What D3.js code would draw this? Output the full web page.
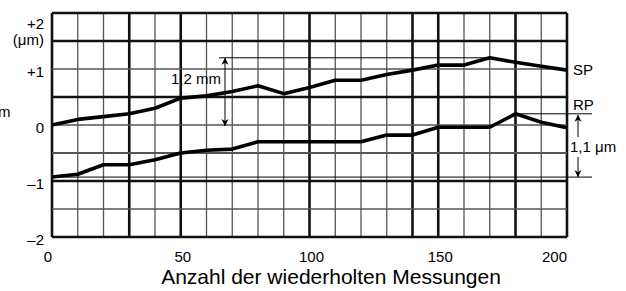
<!DOCTYPE html>
<html lang="de">
<head>
<meta charset="UTF-8">
<title>SP / RP Messungen</title>
<script src="https://d3js.org/d3.v7.min.js"></script>
<style>
  body { margin: 0; background: #fff; }
  svg { display: block; font-family: "Liberation Sans", Arial, sans-serif; }
</style>
</head>
<body>
<div id="chart"></div>
<script>
const counts = [0, 10, 20, 30, 40, 50, 60, 70, 80, 90, 100, 110, 120, 130, 140, 150, 160, 170, 180, 190, 200];
const sp = [0, 0.1, 0.15, 0.2, 0.3, 0.48, 0.52, 0.6, 0.7, 0.56, 0.67, 0.8, 0.8, 0.9, 0.98, 1.07, 1.07, 1.2, 1.12, 1.05, 0.98];
const rp = [-0.93, -0.88, -0.71, -0.71, -0.62, -0.5, -0.45, -0.43, -0.3, -0.3, -0.3, -0.3, -0.3, -0.18, -0.18, -0.04, -0.04, -0.04, 0.2, 0.05, -0.05];

const xTicks = [0, 50, 100, 150, 200];
const yTicks = [1, 0, -1, -2];
const yTickLabels = ["+1", "0", "\u20131", "\u20132"];
const xGrid = d3.range(0, 201, 10);
const yGrid = d3.range(-2, 2.01, 0.5);
const xThick = [0, 30, 50, 100, 140, 150, 180, 200];
const yThick = [2, 1.5, 0.5, -1, -2];

const width = 626, height = 291;
const svg = d3.select("#chart").append("svg")
  .attr("width", width).attr("height", height);

const x = d3.scaleLinear().domain([0, 200]).range([52, 567]);
const y = d3.scaleLinear().domain([-2, 2]).range([237, 13]);

// Gitter
svg.append("g").selectAll("line").data(xGrid).join("line")
  .attr("x1", d => x(d)).attr("x2", d => x(d))
  .attr("y1", y(2)).attr("y2", y(-2))
  .attr("stroke", d => xThick.includes(d) ? "#111" : "#555")
  .attr("stroke-width", d => xThick.includes(d) ? 2.6 : 1.3);

svg.append("g").selectAll("line").data(yGrid).join("line")
  .attr("x1", x(0)).attr("x2", x(200))
  .attr("y1", d => y(d)).attr("y2", d => y(d))
  .attr("stroke", d => yThick.includes(d) ? "#111" : "#555")
  .attr("stroke-width", d => yThick.includes(d) ? 2.6 : (d === -0.5 ? 1.8 : 1.3));

// Bezugslinien
const spMax = d3.max(sp), spMaxAt = counts[sp.indexOf(spMax)];
const rpMax = d3.max(rp), rpMaxAt = counts[rp.indexOf(rpMax)];
const rpMin = d3.min(rp);
const thin = g => g.attr("stroke", "#000").attr("stroke-width", 1);

svg.append("line").call(thin)
  .attr("x1", 219).attr("x2", x(spMaxAt)).attr("y1", y(spMax)).attr("y2", y(spMax));
svg.append("line").call(thin)
  .attr("x1", x(rpMaxAt)).attr("x2", 592).attr("y1", y(rpMax)).attr("y2", y(rpMax));
svg.append("line").call(thin)
  .attr("x1", x(0)).attr("x2", 592).attr("y1", y(rpMin)).attr("y2", y(rpMin));

// Pfeile
const defs = svg.append("defs");
defs.append("marker").attr("id", "head")
  .attr("viewBox", "0 0 10 10").attr("refX", 10).attr("refY", 5)
  .attr("markerWidth", 7).attr("markerHeight", 9)
  .attr("markerUnits", "userSpaceOnUse")
  .attr("orient", "auto")
  .append("path").attr("d", "M0,0 L10,5 L0,10 L3,5 Z").attr("fill", "#000");

const arrow = (x0, ya, yb) => svg.append("line").call(thin)
  .attr("x1", x0).attr("x2", x0).attr("y1", ya).attr("y2", yb)
  .attr("marker-end", "url(#head)");

const spMid = (y(spMax) + y(0)) / 2;
arrow(225, spMid, y(spMax));
arrow(225, spMid, y(0) + 1);
arrow(578, 137, y(rpMax) + 1);
arrow(578, 157, y(rpMin));

// Kurven
const line = d3.line().x((d, i) => x(counts[i])).y(d => y(d));
[sp, rp].forEach(s => {
  svg.append("path").datum(s)
    .attr("d", line)
    .attr("fill", "none")
    .attr("stroke", "#000")
    .attr("stroke-width", 3.6)
    .attr("stroke-linejoin", "round");
});

// Achsenbeschriftung
svg.append("g").selectAll("text").data(yTicks).join("text")
  .attr("x", 44).attr("y", d => y(d) + 8)
  .attr("text-anchor", "end")
  .attr("font-size", 15)
  .text((d, i) => yTickLabels[i]);

svg.append("text").attr("x", 44).attr("y", 29)
  .attr("text-anchor", "end").attr("font-size", 15).text("+2");
svg.append("text").attr("x", 44).attr("y", 45)
  .attr("text-anchor", "end").attr("font-size", 15).text("(\u03bcm)");

svg.append("g").selectAll("text").data(xTicks).join("text")
  .attr("x", d => d === 0 || d === 200 ? x(d) : x(d) + 2)
  .attr("y", 262)
  .attr("text-anchor", d => d === 0 || d === 200 ? "end" : "middle")
  .attr("font-size", 15)
  .text(d => d);

svg.append("text").attr("x", 331).attr("y", 284)
  .attr("text-anchor", "middle").attr("font-size", 21)
  .text("Anzahl der wiederholten Messungen");

svg.append("text").attr("x", 221).attr("y", 84)
  .attr("text-anchor", "end").attr("font-size", 15).text("1,2 mm");
svg.append("text").attr("x", 573).attr("y", 75)
  .attr("font-size", 15).text("SP");
svg.append("text").attr("x", 573).attr("y", 110)
  .attr("font-size", 15).text("RP");
svg.append("text").attr("x", 570).attr("y", 152)
  .attr("font-size", 15).text("1,1 \u03bcm");
svg.append("text").attr("x", -2).attr("y", 117)
  .attr("font-size", 15).text("m");
</script>
</body>
</html>
